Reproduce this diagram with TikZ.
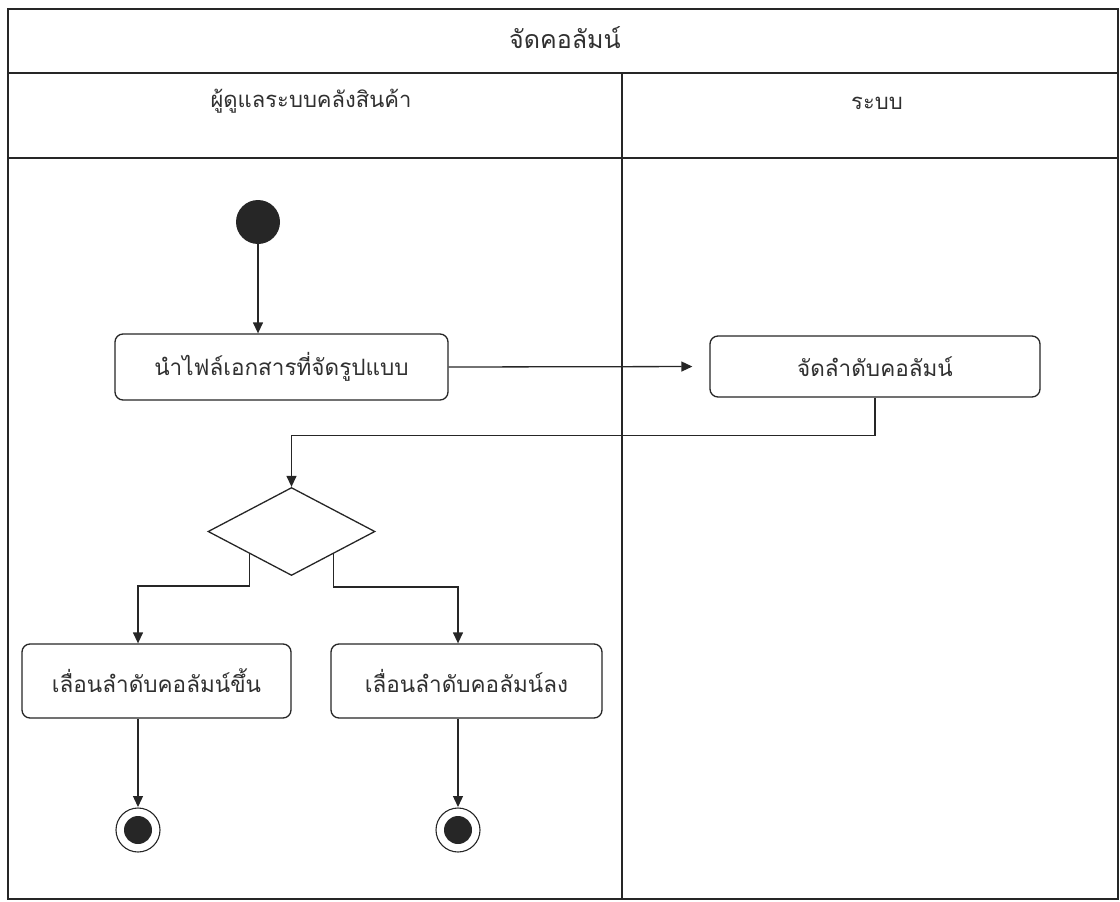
\documentclass[tikz,border=0pt]{standalone}
\usepackage{fontspec}
\setmainfont[Script=Thai]{Loma}
\usetikzlibrary{arrows.meta,shapes.geometric,calc}
\definecolor{ink}{HTML}{262626}
\definecolor{txt}{HTML}{303030}
\tikzset{
  frameline/.style={draw=ink,line width=1.5pt},
  action/.style={draw=ink,line width=1.3pt,rounded corners=8pt,fill=white,
    text=txt,font=\fontsize{22.5}{26}\selectfont,inner sep=0pt},
  flow/.style={draw=ink,line width=1.3pt,-{Triangle[length=11pt,width=10pt]}},
  heading/.style={text=txt,font=\fontsize{22}{26}\selectfont,inner sep=0pt},
  initial/.style={circle,fill=ink,minimum size=44pt,inner sep=0pt},
  final/.style={circle,draw=ink,line width=1.1pt,minimum size=44pt,inner sep=0pt,
    path picture={\fill[ink] (path picture bounding box.center) circle (14pt);}},
  choice/.style={diamond,draw=ink,line width=1.3pt,minimum width=167pt,
    minimum height=88pt,inner sep=0pt},
}
\begin{document}
\begin{tikzpicture}[x=1pt,y=-1pt]
\useasboundingbox (0,0) rectangle (1120,902);
% swimlane frame
\draw[frameline] (8,9) rectangle (1118,899);
\draw[frameline] (8,73) -- (1118,73);
\draw[frameline] (8,158) -- (1118,158);
\draw[frameline] (622,73) -- (622,899);
% lane titles
\node[heading,font=\fontsize{25}{29}\selectfont] (title) at (565,38) {จัดคอลัมน์};
\node[heading] (laneA) at (311,101) {ผู้ดูแลระบบคลังสินค้า};
\node[heading] (laneB) at (877,103) {ระบบ};
% activity nodes
\node[initial] (start) at (258,222) {};
\node[action,minimum width=333pt,minimum height=66pt] (n1) at (281.5,367) {นำไฟล์เอกสารที่จัดรูปแบบ};
\node[action,minimum width=330pt,minimum height=61pt] (n2) at (875,366.5) {จัดลำดับคอลัมน์};
\node[choice] (d) at (291.5,531.5) {};
\node[action,minimum width=269pt,minimum height=74pt] (n3) at (156.5,681) {เลื่อนลำดับคอลัมน์ขึ้น};
\node[action,minimum width=271pt,minimum height=74pt] (n4) at (466.5,681) {เลื่อนลำดับคอลัมน์ลง};
\node[final] (e1) at (138,830) {};
\node[final] (e2) at (458,830) {};
% branch exits on the lower edges of the decision
\coordinate (dl) at ($(d.west)!0.5!(d.south)$);
\coordinate (dr) at ($(d.south)!0.5!(d.east)$);
% connectors
\draw[flow] (start.south) -- (start.south |- n1.north);
\draw[flow,shorten >=17pt] (n1.east) -- (n2.west);
\draw[flow] (n2.south) -- ++(0,38) -| (d.north);
\draw[flow] (dl) -- (dl |- 0,586) -| (e1 |- n3.north);
\draw[flow] (dr) -- (dr |- 0,587) -| (e2 |- n4.north);
\draw[flow,shorten >=23pt] (e1 |- n3.south) -- (e1.center);
\draw[flow,shorten >=23pt] (e2 |- n4.south) -- (e2.center);
\end{tikzpicture}
\end{document}
